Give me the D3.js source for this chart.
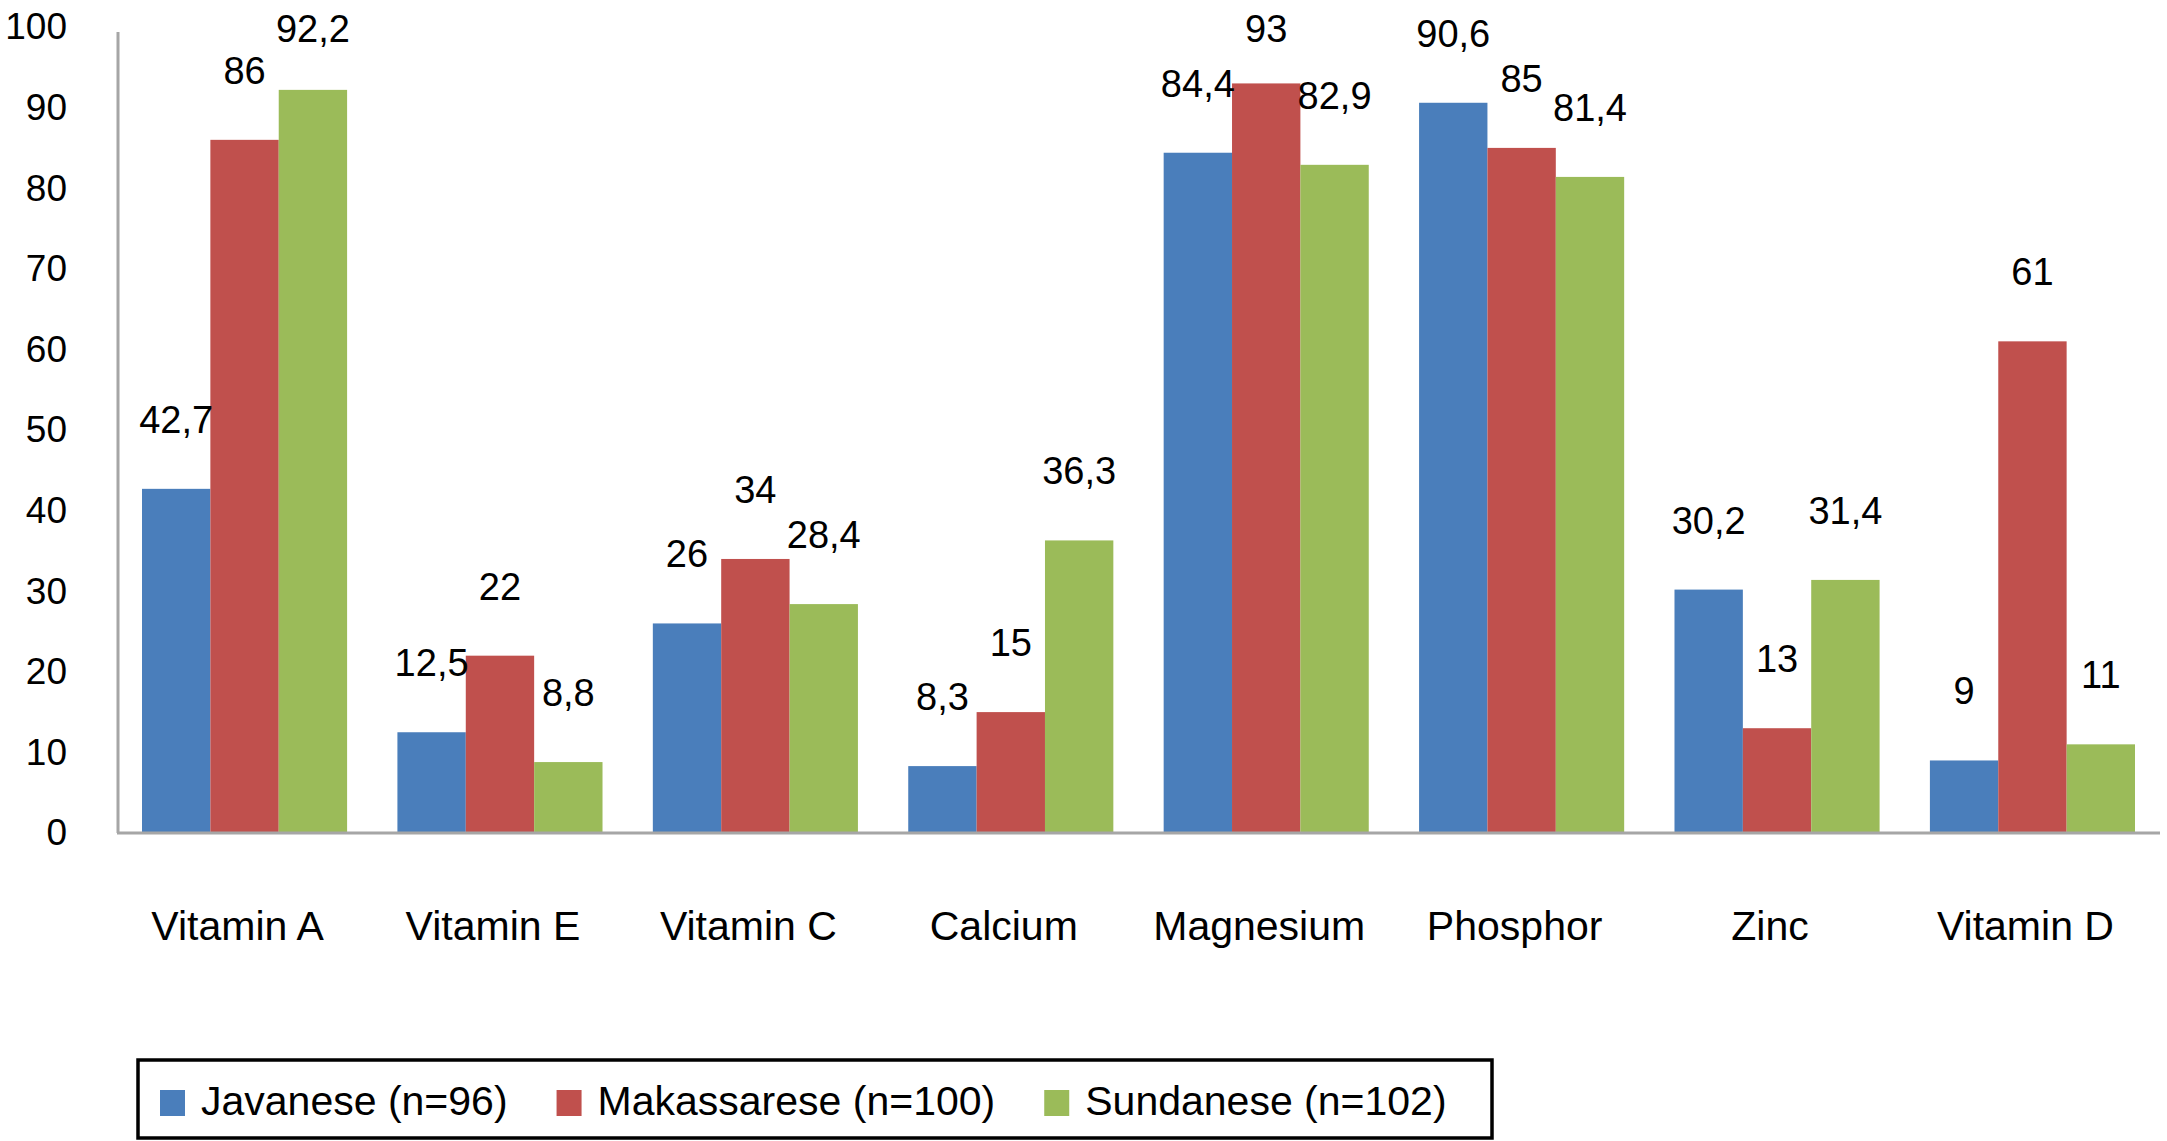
<!DOCTYPE html>
<html>
<head>
<meta charset="utf-8">
<script src="https://cdn.jsdelivr.net/npm/d3@7"></script>
<style>
  html, body { margin: 0; padding: 0; background: #ffffff; }
  svg { display: block; }
  text { font-family: "Liberation Sans", Arial, Helvetica, sans-serif; fill: #000; }
</style>
</head>
<body>
<svg id="chart" width="2167" height="1141"></svg>
<script>
const categories = ["Vitamin A", "Vitamin E", "Vitamin C", "Calcium", "Magnesium", "Phosphor", "Zinc", "Vitamin D"];
const seriesNames = ["Javanese (n=96)", "Makassarese (n=100)", "Sundanese (n=102)"];
const javanese    = [42.7, 12.5, 26, 8.3, 84.4, 90.6, 30.2, 9];
const makassarese = [86, 22, 34, 15, 93, 85, 13, 61];
const sundanese   = [92.2, 8.8, 28.4, 36.3, 82.9, 81.4, 31.4, 11];
const seriesColors = ["#4A7EBB", "#C0504D", "#9BBB59"];
const yTicks = [0, 10, 20, 30, 40, 50, 60, 70, 80, 90, 100];

const seriesValues = [javanese, makassarese, sundanese];
const rows = categories.map((c, i) => ({
  cat: c,
  vals: seriesNames.map((s, k) => ({ series: s, k, value: seriesValues[k][i] }))
}));

const svg = d3.select("#chart");

const y = d3.scaleLinear().domain([0, 100]).range([833, 27]);
const x0 = d3.scaleBand().domain(categories).range([142, 2135]).paddingInner(0.197).paddingOuter(0);
const x1 = d3.scaleBand().domain(seriesNames).range([0, x0.bandwidth()]).padding(0);
const color = d3.scaleOrdinal().domain(seriesNames).range(seriesColors);

const fmt = v => String(v).replace(".", ",");

// y tick labels (no tick marks, no gridlines)
const yAxis = d3.axisLeft(y).tickValues(yTicks).tickSize(0).tickPadding(0).tickFormat(d3.format("d"));
const gy = svg.append("g").attr("transform", "translate(67,0)").call(yAxis);
gy.select(".domain").remove();
gy.selectAll("text")
  .attr("font-size", 37)
  .attr("dy", "0.32em")
  .attr("font-family", "'Liberation Sans', Arial, sans-serif")
  .attr("fill", "#000");

// bars
const groups = svg.append("g").selectAll("g").data(rows).join("g")
  .attr("transform", d => `translate(${x0(d.cat)},0)`);

groups.selectAll("rect").data(d => d.vals).join("rect")
  .attr("x", d => x1(d.series))
  .attr("width", x1.bandwidth())
  .attr("y", d => y(d.value))
  .attr("height", d => y(0) - y(d.value))
  .attr("fill", d => color(d.series));

// data labels
groups.selectAll("text.val").data(d => d.vals).join("text")
  .attr("class", "val")
  .attr("x", d => x1(d.series) + x1.bandwidth() / 2)
  .attr("y", d => Math.max(y(d.value) - 56, 42))
  .attr("text-anchor", "middle")
  .attr("font-size", 38)
  .text(d => fmt(d.value));

// axis lines
svg.append("line")
  .attr("x1", 118).attr("x2", 118)
  .attr("y1", 32).attr("y2", y(0))
  .attr("stroke", "#A6A6A6").attr("stroke-width", 3);
svg.append("line")
  .attr("x1", 117).attr("x2", 2160)
  .attr("y1", y(0)).attr("y2", y(0))
  .attr("stroke", "#A6A6A6").attr("stroke-width", 3);

// category labels
const xAxis = d3.axisBottom(x0).tickSize(0).tickPadding(0);
const gx = svg.append("g").attr("transform", "translate(-7,940)").call(xAxis);
gx.select(".domain").remove();
gx.selectAll("text")
  .attr("font-size", 41)
  .attr("dy", 0)
  .attr("y", 0)
  .attr("font-family", "'Liberation Sans', Arial, sans-serif")
  .attr("fill", "#000");

// legend
const legend = svg.append("g");
legend.append("rect")
  .attr("x", 138).attr("y", 1060)
  .attr("width", 1354).attr("height", 78)
  .attr("fill", "none").attr("stroke", "#000").attr("stroke-width", 3.5);

let lx = 160;
seriesNames.forEach((s, k) => {
  legend.append("rect")
    .attr("x", lx).attr("y", 1090)
    .attr("width", 25).attr("height", 26)
    .attr("fill", color(s));
  const t = legend.append("text")
    .attr("x", lx + 41).attr("y", 1115)
    .attr("font-size", 41)
    .text(s);
  const w = t.node().getComputedTextLength();
  lx = lx + 41 + w + 49;
});
</script>
</body>
</html>
